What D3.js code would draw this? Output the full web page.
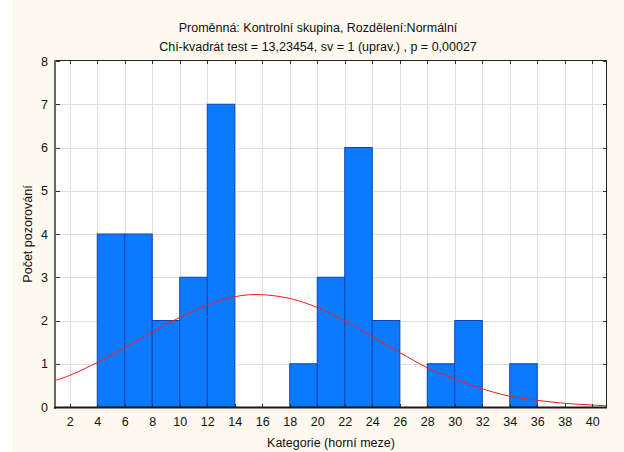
<!DOCTYPE html>
<html>
<head>
<meta charset="utf-8">
<script src="https://cdn.jsdelivr.net/npm/d3@7/dist/d3.min.js"></script>
<style>
  html, body { margin: 0; padding: 0; background: #fdf9ee; }
  svg { display: block; }
  text { font-family: "Liberation Sans", Arial, sans-serif; fill: #111; }
</style>
</head>
<body>
<svg id="chart" width="624" height="452"></svg>
<script>
// Histogram categories: upper limits of each class (class width 2)
const upperLimits = [2, 4, 6, 8, 10, 12, 14, 16, 18, 20, 22, 24, 26, 28, 30, 32, 34, 36, 38, 40];
const counts      = [0, 0, 4, 4, 2, 3, 7, 0, 0, 1, 3, 6, 2, 0, 1, 2, 0, 1, 0, 0];
const classWidth = 2;

// Expected frequencies of the fitted normal distribution
const curveX = [1, 2, 4, 6, 8, 10, 12, 14, 15.7, 18, 20, 22, 24, 26, 28, 30, 32, 34, 36, 38, 40, 41];
const curveY = [0.62, 0.73, 1.03, 1.37, 1.74, 2.07, 2.36, 2.55, 2.60, 2.51, 2.30, 1.99, 1.63, 1.26, 0.91, 0.65, 0.42, 0.25, 0.155, 0.085, 0.045, 0.03];

const xTicks = [2, 4, 6, 8, 10, 12, 14, 16, 18, 20, 22, 24, 26, 28, 30, 32, 34, 36, 38, 40];
const yTicks = [0, 1, 2, 3, 4, 5, 6, 7, 8];

const titleLines = [
  "Proměnná: Kontrolní skupina, Rozdělení:Normální",
  "Chí-kvadrát test = 13,23454, sv = 1 (uprav.) , p = 0,00027"
];
const xLabel = "Kategorie (horní meze)";
const yLabel = "Počet pozorování";

const FS = 12.5;
const svg = d3.select("#chart");
const W = 624, H = 452;
const plot = { left: 56, right: 606, top: 61, bottom: 407 };

svg.append("rect").attr("x", 0).attr("y", 0).attr("width", W).attr("height", H).attr("fill", "#fdf9ee");
svg.append("rect").attr("x", 0).attr("y", 0).attr("width", 12).attr("height", H).attr("fill", "#ffffff");

const x = d3.scaleLinear().domain([1, 41]).range([plot.left, plot.right]);
const y = d3.scaleLinear().domain([0, 8]).range([plot.bottom, plot.top]);

// plot background
svg.append("rect")
  .attr("x", plot.left).attr("y", plot.top)
  .attr("width", plot.right - plot.left).attr("height", plot.bottom - plot.top)
  .attr("fill", "#ffffff");

// grid
const grid = svg.append("g").attr("stroke", "#dedede").attr("stroke-width", 1);
grid.selectAll("line.v").data(xTicks).join("line")
  .attr("x1", d => Math.round(x(d)) + 0.5).attr("x2", d => Math.round(x(d)) + 0.5)
  .attr("y1", plot.top).attr("y2", plot.bottom);
grid.selectAll("line.h").data(yTicks.filter(d => d > 0 && d < 8)).join("line")
  .attr("x1", plot.left).attr("x2", plot.right)
  .attr("y1", d => Math.round(y(d)) + 0.5).attr("y2", d => Math.round(y(d)) + 0.5);

// bars
const bins = upperLimits.map((u, i) => ({ lo: u - classWidth, hi: u, n: counts[i] }));
svg.append("g").selectAll("rect").data(bins.filter(b => b.n > 0)).join("rect")
  .attr("x", d => x(d.lo))
  .attr("y", d => y(d.n))
  .attr("width", d => x(d.hi) - x(d.lo))
  .attr("height", d => y(0) - y(d.n))
  .attr("fill", "#0a7bff")
  .attr("stroke", "#1144b4")
  .attr("stroke-width", 1);

// normal curve
const line = d3.line()
  .x((d, i) => x(curveX[i]))
  .y(d => y(d))
  .curve(d3.curveCatmullRom);
svg.append("path")
  .attr("d", line(curveY))
  .attr("fill", "none")
  .attr("stroke", "#ff1a1a")
  .attr("stroke-width", 1);

// frame
svg.append("line").attr("x1", plot.left).attr("x2", plot.right + 1)
  .attr("y1", plot.top - 0.5).attr("y2", plot.top - 0.5).attr("stroke", "#222").attr("stroke-width", 1);
svg.append("line").attr("x1", plot.right + 0.5).attr("x2", plot.right + 0.5)
  .attr("y1", plot.top - 1).attr("y2", plot.bottom).attr("stroke", "#222").attr("stroke-width", 1);

// axes
const xAxis = d3.axisBottom(x).tickValues(xTicks).tickSize(0).tickPadding(10);
const gx = svg.append("g").attr("transform", `translate(0,${plot.bottom})`).call(xAxis);
gx.select(".domain").remove();
gx.selectAll("text").attr("font-size", FS).attr("fill", "#111")
  .attr("font-family", "Liberation Sans, Arial, sans-serif");

const yAxis = d3.axisLeft(y).tickValues(yTicks).tickSize(0).tickPadding(8);
const gy = svg.append("g").attr("transform", `translate(${plot.left},0)`).call(yAxis);
gy.select(".domain").remove();
gy.selectAll("text").attr("font-size", FS).attr("fill", "#111")
  .attr("font-family", "Liberation Sans, Arial, sans-serif");

// small inner ticks on all four sides
const ticks = svg.append("g").attr("stroke", "#333").attr("stroke-width", 1);
ticks.selectAll("line.tb").data(xTicks).join("line")
  .attr("x1", d => Math.round(x(d)) + 0.5).attr("x2", d => Math.round(x(d)) + 0.5)
  .attr("y1", plot.top).attr("y2", plot.top + 3);
ticks.selectAll("line.bb").data(xTicks).join("line")
  .attr("x1", d => Math.round(x(d)) + 0.5).attr("x2", d => Math.round(x(d)) + 0.5)
  .attr("y1", plot.bottom - 3).attr("y2", plot.bottom);
ticks.selectAll("line.rr").data(yTicks).join("line")
  .attr("x1", plot.right - 3).attr("x2", plot.right)
  .attr("y1", d => Math.round(y(d)) + 0.5).attr("y2", d => Math.round(y(d)) + 0.5);
ticks.selectAll("line.ll").data(yTicks).join("line")
  .attr("x1", plot.left).attr("x2", plot.left + 4)
  .attr("y1", d => Math.round(y(d)) + 0.5).attr("y2", d => Math.round(y(d)) + 0.5);

// left and bottom axis lines
svg.append("line").attr("x1", plot.left - 1).attr("x2", plot.left - 1)
  .attr("y1", plot.top - 1).attr("y2", plot.bottom + 2).attr("stroke", "#6a6a6a").attr("stroke-width", 2);
svg.append("line").attr("x1", plot.left - 2).attr("x2", plot.right + 1)
  .attr("y1", plot.bottom + 0.5).attr("y2", plot.bottom + 0.5).attr("stroke", "#1a1a1a").attr("stroke-width", 2);

// titles
svg.selectAll("text.title").data(titleLines).join("text")
  .attr("class", "title")
  .attr("x", 318)
  .attr("y", (d, i) => 32 + i * 19)
  .attr("text-anchor", "middle")
  .attr("font-size", FS)
  .text(d => d);

svg.append("text")
  .attr("x", (plot.left + plot.right) / 2)
  .attr("y", 447)
  .attr("text-anchor", "middle")
  .attr("font-size", FS)
  .text(xLabel);

svg.append("text")
  .attr("transform", `translate(32,${(plot.top + plot.bottom) / 2}) rotate(-90)`)
  .attr("text-anchor", "middle")
  .attr("font-size", FS)
  .text(yLabel);
</script>
</body>
</html>
